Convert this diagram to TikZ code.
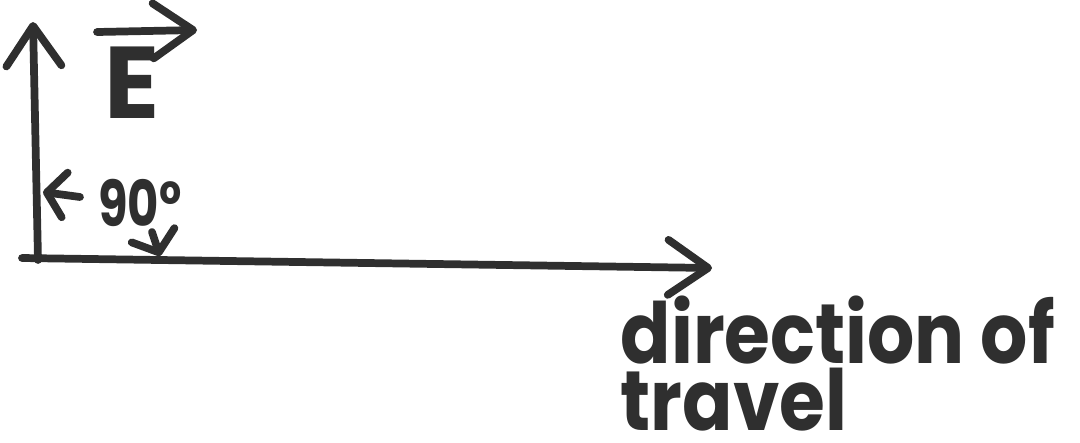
\documentclass[tikz,border=0pt]{standalone}
\usepackage{fontspec}
\setmainfont{Poppins}
\usetikzlibrary{arrows.meta}
\definecolor{pencil}{HTML}{2F2F2F}

\tikzset{
    stroke/.style={line width=2.2pt, line cap=round, line join=round, draw=pencil},
    bighead/.style={-{Straight Barb[length=4mm,width=5.5mm,round]}},
    smallhead/.style={-{Straight Barb[length=1.8mm,width=4.5mm,round]}},
    handtext/.style={text=pencil, font=\bfseries, inner sep=0pt}
}
\newcommand{\narrow}[1]{\scalebox{0.88}[1]{#1}}

\begin{document}
\begin{tikzpicture}[x=0.01cm, y=-0.01cm]
    \useasboundingbox (0,0) rectangle (1080,442);

    \coordinate (O) at (38,260);
    \coordinate (Etip) at (33,22);
    \coordinate (Tstart) at (22,258);
    \coordinate (Ttip) at (712,268);

    % Axes
    \draw[stroke, bighead] (O) -- (Etip);
    \draw[stroke, bighead] (Tstart) -- (Ttip);

    % Labels
    \node[handtext, anchor=base, font=\fontsize{29}{29}\selectfont\bfseries] (E) at (132,118) {E};
    \coordinate (Evs) at (97,32);
    \coordinate (Eve) at (197,30);
    \draw[stroke, bighead] (Evs) -- (Eve);

    \node[handtext, anchor=base, font=\fontsize{18}{18}\selectfont\bfseries] (angle) at (140,226) {\scalebox{0.76}[1]{90°}};
    \coordinate (a1) at (80,197);
    \coordinate (a2) at (152,232);
    \coordinate (Lvert) at (43,192);
    \coordinate (Lhor) at (160,256);
    \draw[stroke, smallhead] (a1) -- (Lvert);
    \draw[stroke, smallhead] (a2) -- (Lhor);

    \node[handtext, anchor=base west, align=left,
          font=\fontsize{24}{16}\selectfont\bfseries] (travel) at (620,430)
          {\narrow{direction of}\\\narrow{travel}};
\end{tikzpicture}
\end{document}
